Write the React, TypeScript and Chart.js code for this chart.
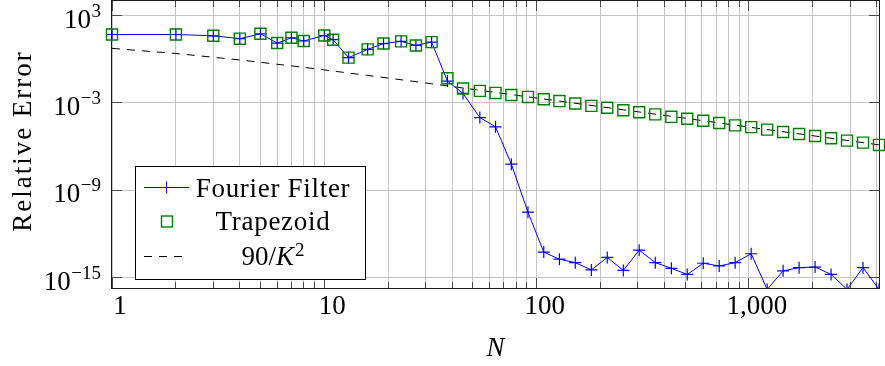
import React, { useEffect, useRef } from 'react';
import { Chart, registerables } from 'chart.js';

Chart.register(...registerables);

// ---------- data ----------
const N = [1, 2, 3, 4, 5, 6, 7, 8, 10, 11, 13, 16, 19, 23, 27, 32, 38, 45, 54, 64, 76, 91, 108, 128, 152, 181, 215, 256, 304, 362, 431, 512, 609, 724, 861, 1024, 1218, 1448, 1722, 2048, 2436, 2896, 3444, 4096];

const fourierError = [
  50, 50, 41, 26, 56, 13, 30, 18, 43, 22, 1.3, 4.8, 12, 17, 8.9, 15,
  3.2e-2, 4.5e-3, 1.0e-4, 2.3e-5, 6.3e-8, 3.2e-11, 5.8e-14, 1.9e-14, 1.1e-14, 3.5e-15, 2.5e-14, 3.2e-15,
  7.9e-14, 1.1e-14, 4.5e-15, 1.7e-15, 1.0e-14, 6.5e-15, 1.1e-14, 4.5e-14, 1.6e-16, 3.0e-15, 5.0e-15, 5.5e-15,
  1.7e-15, 1.6e-16, 5.0e-15, 1.6e-16,
];

const trapezoidError = [
  50, 50, 41, 26, 56, 13, 30, 18, 43, 22, 1.3, 4.8, 12, 17, 8.9, 15,
  5.0e-2, 9.8e-3, 6.8e-3, 4.9e-3, 3.5e-3, 2.6e-3, 1.8e-3, 1.35e-3, 9.3e-4, 6.3e-4, 4.7e-4, 3.2e-4,
  2.3e-4, 1.66e-4, 1.12e-4, 8.3e-5, 6.0e-5, 4.2e-5, 2.9e-5, 2.2e-5, 1.48e-5, 1.02e-5, 7.4e-6, 5.4e-6,
  3.8e-6, 2.6e-6, 1.9e-6, 1.32e-6,
];

const refN = [1, 2, 4, 8, 16, 32, 64, 128, 256, 512, 1024, 2048, 4096];
const refValues = [5.6, 2.5, 0.9, 0.28, 0.078, 0.021, 5.3e-3, 1.35e-3, 3.4e-4, 8.6e-5, 2.1e-5, 5.4e-6, 1.34e-6];

const xMajorTicks = [1, 10, 100, 1000];
const xTickLabels = ['1', '10', '100', '1,000'];
const xMinorMultipliers = [2, 3, 4, 5, 6, 7, 8, 9];
const yTicks = [1e-15, 1e-9, 1e-3, 1e3];
const yTickExponents = ['\u221215', '\u22129', '\u22123', '3'];

const X_MIN = 1;
const X_MAX = 4096;
const Y_MIN = 2e-16;
const Y_MAX = 1e4;

// ---------- style ----------
const FONT = '"Liberation Serif", "Times New Roman", serif';
const BLUE = '#0000ff';
const GREEN = '#008000';
const GRID = '#c4c4c4';

const xGridValues: number[] = [];
xMajorTicks.forEach((m) => {
  xGridValues.push(m);
  xMinorMultipliers.forEach((k) => {
    if (m * k <= X_MAX) xGridValues.push(m * k);
  });
});

const decor = {
  id: 'decor',
  beforeDatasetsDraw(chart: any) {
    const { ctx, chartArea: a } = chart;
    const xs = chart.scales.x;
    const ys = chart.scales.y;
    ctx.save();
    ctx.strokeStyle = '#4a4a4a';
    ctx.lineWidth = 1;
    ctx.beginPath();
    xGridValues.forEach((v) => {
      const px = Math.round(xs.getPixelForValue(v) - 0.5) + 0.5;
      const len = xMajorTicks.includes(v) ? 10 : 6;
      ctx.moveTo(px, a.bottom);
      ctx.lineTo(px, a.bottom - len);
      ctx.moveTo(px, a.top);
      ctx.lineTo(px, a.top + len);
    });
    yTicks.forEach((v) => {
      const py = Math.round(ys.getPixelForValue(v) - 0.5) + 0.5;
      ctx.moveTo(a.left, py);
      ctx.lineTo(a.left + 10, py);
      ctx.moveTo(a.right, py);
      ctx.lineTo(a.right - 10, py);
    });
    ctx.stroke();
    ctx.strokeStyle = '#1a1a1a';
    ctx.strokeRect(a.left - 0.5, a.top - 0.5, a.right - a.left + 1, a.bottom - a.top + 1);
    ctx.restore();
  },
  afterDraw(chart: any) {
    const { ctx, chartArea: a } = chart;
    const ys = chart.scales.y;
    ctx.save();
    ctx.fillStyle = '#000';
    ctx.textBaseline = 'alphabetic';
    ctx.textAlign = 'left';

    // y tick labels 10^k
    yTicks.forEach((v, i) => {
      const py = ys.getPixelForValue(v);
      const exp = yTickExponents[i];
      ctx.font = `19px ${FONT}`;
      const ew = ctx.measureText(exp).width;
      ctx.font = `27px ${FONT}`;
      const bw = ctx.measureText('10').width;
      const right = 101;
      ctx.fillText('10', right - ew - bw - 0.5, py + 12);
      ctx.font = `19px ${FONT}`;
      ctx.fillText(exp, right - ew, py + 1);
    });

    // y axis title
    ctx.save();
    ctx.translate(30.5, 141);
    ctx.rotate(-Math.PI / 2);
    ctx.font = `27px ${FONT}`;
    (ctx as any).letterSpacing = '2px';
    ctx.textAlign = 'center';
    ctx.fillText('Relative Error', 0, 0);
    ctx.restore();

    // x axis title
    ctx.font = `italic 27px ${FONT}`;
    ctx.textAlign = 'center';
    ctx.fillText('N', (a.left + a.right) / 2, 356);

    // legend
    const bx = 135.5, by = 166.5, bw = 230, bh = 113;
    ctx.fillStyle = '#fff';
    ctx.fillRect(bx, by, bw, bh);
    ctx.strokeStyle = '#000';
    ctx.lineWidth = 1;
    ctx.strokeRect(bx, by, bw, bh);

    // row 1: Fourier Filter
    ctx.strokeStyle = BLUE;
    ctx.lineWidth = 1;
    ctx.beginPath();
    ctx.moveTo(144, 187.5);
    ctx.lineTo(189, 187.5);
    ctx.moveTo(166.5, 181.5);
    ctx.lineTo(166.5, 193.5);
    ctx.stroke();

    // row 2: Trapezoid square
    ctx.strokeStyle = GREEN;
    ctx.lineWidth = 1.4;
    ctx.strokeRect(161.5, 216, 11, 11);

    // row 3: dashed
    ctx.strokeStyle = '#000';
    ctx.lineWidth = 1;
    ctx.setLineDash([8, 7]);
    ctx.beginPath();
    ctx.moveTo(144, 256.5);
    ctx.lineTo(185, 256.5);
    ctx.stroke();
    ctx.setLineDash([]);

    ctx.fillStyle = '#000';
    ctx.textAlign = 'center';
    ctx.font = `27px ${FONT}`;
    (ctx as any).letterSpacing = '0.7px';
    ctx.fillText('Fourier Filter', 273, 196.5);
    ctx.fillText('Trapezoid', 273, 229.5);
    (ctx as any).letterSpacing = '0px';

    // 90/K^2
    ctx.textAlign = 'left';
    ctx.font = `27px ${FONT}`;
    const w1 = ctx.measureText('90/').width;
    ctx.font = `italic 27px ${FONT}`;
    const w2 = ctx.measureText('K').width;
    ctx.font = `19px ${FONT}`;
    const w3 = ctx.measureText('2').width;
    const total = w1 + w2 + w3 + 1;
    let sx = 273 - total / 2;
    ctx.font = `27px ${FONT}`;
    ctx.fillText('90/', sx, 265);
    sx += w1;
    ctx.font = `italic 27px ${FONT}`;
    ctx.fillText('K', sx, 265);
    sx += w2 + 1;
    ctx.font = `19px ${FONT}`;
    ctx.fillText('2', sx, 256);
    ctx.restore();
  },
};

export default function App() {
  const ref = useRef<HTMLCanvasElement>(null);

  useEffect(() => {
    const canvas = ref.current;
    if (!canvas) return;
    const chart = new Chart(canvas, {
      type: 'scatter',
      data: {
        datasets: [
          {
            label: 'Trapezoid',
            data: N.map((n, i) => ({ x: n, y: trapezoidError[i] })),
            showLine: false,
            pointStyle: 'rect',
            pointRadius: 7.8,
            pointBorderWidth: 1.4,
            pointBorderColor: GREEN,
            pointBackgroundColor: 'rgba(0,0,0,0)',
            clip: false,
            order: 0,
          } as any,
          {
            label: 'Fourier Filter',
            data: N.map((n, i) => ({ x: n, y: fourierError[i] })),
            showLine: true,
            borderColor: BLUE,
            borderWidth: 1,
            pointStyle: 'cross',
            pointRadius: 6,
            pointBorderWidth: 1.2,
            pointBorderColor: BLUE,
            pointBackgroundColor: BLUE,
            clip: { left: 10, right: 10, top: 10, bottom: 0 },
            order: 1,
          } as any,
          {
            label: '90/K²',
            data: refN.map((n, i) => ({ x: n, y: refValues[i] })),
            showLine: true,
            borderColor: '#000',
            borderWidth: 1,
            borderDash: [8, 7],
            pointRadius: 0,
            order: 2,
          } as any,
        ],
      },
      options: {
        responsive: false,
        animation: false,
        events: [],
        layout: { autoPadding: false, padding: { left: 0, right: 6, top: 1, bottom: 0 } },
        plugins: { legend: { display: false }, tooltip: { enabled: false } },
        scales: {
          x: {
            type: 'logarithmic',
            min: X_MIN,
            max: X_MAX,
            afterFit: (s: any) => {
              s.height = 78;
            },
            afterBuildTicks: (s: any) => {
              s.ticks = xGridValues.map((v) => ({ value: v, major: xMajorTicks.includes(v) }));
            },
            grid: { color: GRID, lineWidth: 1, drawTicks: false },
            border: { display: false },
            ticks: {
              autoSkip: false,
              maxRotation: 0,
              minRotation: 0,
              padding: 3,
              labelOffset: 8,
              color: '#000',
              font: { family: FONT, size: 27 },
              callback: (v: any) => {
                const i = xMajorTicks.indexOf(Number(v));
                return i >= 0 ? xTickLabels[i] : '';
              },
            },
          },
          y: {
            type: 'logarithmic',
            min: Y_MIN,
            max: Y_MAX,
            afterFit: (s: any) => {
              s.width = 112;
            },
            afterBuildTicks: (s: any) => {
              s.ticks = yTicks.map((v) => ({ value: v }));
            },
            grid: { color: GRID, lineWidth: 1, drawTicks: false },
            border: { display: false },
            ticks: { display: false },
          },
        },
      } as any,
      plugins: [decor],
    });
    return () => chart.destroy();
  }, []);

  return (
    <div style={{ position: 'fixed', left: 0, top: 0, width: 885, height: 366, background: '#fff' }}>
      <canvas ref={ref} width={885} height={366} style={{ display: 'block' }} />
    </div>
  );
}
